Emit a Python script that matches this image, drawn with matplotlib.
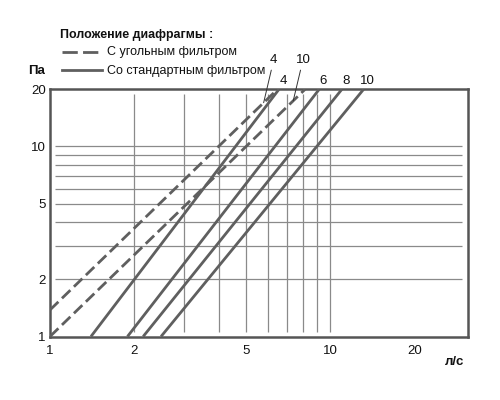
import numpy as np
import matplotlib
matplotlib.use("Agg")
import matplotlib.pyplot as plt
from matplotlib.lines import Line2D

# Pressure drop (Pa) vs. air flow (l/s) for diaphragm positions
# Charcoal filter (dashed)
charcoal_positions = ["4", "10"]
charcoal_flow = [[1.0, 6.48], [1.0, 8.13]]
charcoal_pa = [[1.38, 20.0], [1.0, 20.0]]

# Standard filter (solid)
standard_positions = ["4", "6", "8", "10"]
standard_flow = [[1.40, 6.56], [1.89, 9.13], [2.15, 11.0], [2.49, 13.15]]
standard_pa = [[1.0, 20.0], [1.0, 20.0], [1.0, 20.0], [1.0, 20.0]]

x_ticks = [1, 2, 5, 10, 20]
y_ticks = [1, 2, 5, 10, 20]
x_grid = [2, 3, 4, 5, 6, 7, 8, 9, 10]
y_grid = [2, 3, 4, 5, 6, 7, 8, 9, 10]

FONT = ["Liberation Sans", "DejaVu Sans"]
LINE_C = "#5f5f5f"
GRID_C = "#8a8a8a"
TXT_C = "#111111"

fig = plt.figure(figsize=(5, 4), dpi=100)
W, H = 500, 400
ax = fig.add_axes([50 / W, 1 - 336.5 / H, 418 / W, 247.2 / H])
ax.set_xscale("log")
ax.set_yscale("log")
ax.set_xlim(1, 31)
ax.set_ylim(1, 20)

# grid lines stop just short of the frame
ax.hlines(y_grid, 1.042, 29.6, color=GRID_C, lw=0.9, zorder=1)
ax.vlines(x_grid, 1.06, 18.9, color=GRID_C, lw=0.9, zorder=1)

for fl, pa in zip(standard_flow, standard_pa):
    ax.plot(fl, pa, color=LINE_C, lw=2.0, solid_capstyle="butt", zorder=3)
for fl, pa in zip(charcoal_flow, charcoal_pa):
    ax.plot(fl, pa, color=LINE_C, lw=2.0, dashes=(4.2, 1.8), zorder=3)

for s in ax.spines.values():
    s.set_color("#555555")
    s.set_linewidth(1.8)

ax.minorticks_off()
ax.set_xticks(x_ticks)
ax.set_xticklabels([str(v) for v in x_ticks])
ax.set_yticks(y_ticks)
ax.set_yticklabels([str(v) for v in y_ticks])
ax.tick_params(length=0, labelsize=9.5, colors=TXT_C)
ax.tick_params(axis="x", pad=6)
ax.tick_params(axis="y", pad=3)
for lab in ax.get_xticklabels() + ax.get_yticklabels():
    lab.set_family(FONT)


def flow_at(fl, pa, p):
    lx, ly = np.log10(fl), np.log10(pa)
    t = (np.log10(p) - ly[0]) / (ly[1] - ly[0])
    return 10 ** (lx[0] + t * (lx[1] - lx[0]))


# labels at the top ends of the standard-filter lines
for name, fl, pa in zip(standard_positions, standard_flow, standard_pa):
    ax.annotate(name, xy=(fl[-1], pa[-1]), xytext=(4, 8),
                textcoords="offset pixels", ha="center", va="center",
                fontsize=9.5, family=FONT, color=TXT_C,
                annotation_clip=False)

# charcoal-filter labels with leader lines
lead_p = [17.0, 17.4]
text_px = [(273, H - 60), (303, H - 60)]
for name, fl, pa, p, tp in zip(charcoal_positions, charcoal_flow,
                               charcoal_pa, lead_p, text_px):
    ax.annotate(name, xy=(flow_at(fl, pa, p), p), xytext=tp,
                textcoords="figure pixels", ha="center", va="center",
                fontsize=9.5, family=FONT, color=TXT_C,
                annotation_clip=False,
                arrowprops=dict(arrowstyle="-", color="#333333", lw=0.7,
                                shrinkA=1, shrinkB=0, relpos=(0.4, 0.0)))

# legend block
fig.text(60 / W, 1 - 35 / H, "Положение диафрагмы :", ha="left",
         va="center", fontsize=8.9, fontweight="bold", family=FONT,
         color=TXT_C)
fig.add_artist(Line2D([61.7 / W, 101.7 / W], [1 - 51.5 / H] * 2,
                      color=LINE_C, lw=2.0, dashes=(5.5, 1.9)))
fig.add_artist(Line2D([61.7 / W, 101.7 / W], [1 - 69.5 / H] * 2,
                      color=LINE_C, lw=2.0))
fig.text(107 / W, 1 - 52 / H, "С угольным фильтром", ha="left",
         va="center", fontsize=9, family=FONT, color=TXT_C)
fig.text(107 / W, 1 - 71 / H, "Со стандартным фильтром", ha="left",
         va="center", fontsize=9, family=FONT, color=TXT_C)

# axis units
fig.text(37 / W, 1 - 71 / H, "Па", ha="center", va="center",
         fontsize=9.5, fontweight="bold", family=FONT, color=TXT_C)
fig.text(455 / W, 1 - 362 / H, "л/с", ha="center", va="center",
         fontsize=9.5, fontweight="bold", family=FONT, color=TXT_C)

fig.savefig("out.png", dpi=100)
